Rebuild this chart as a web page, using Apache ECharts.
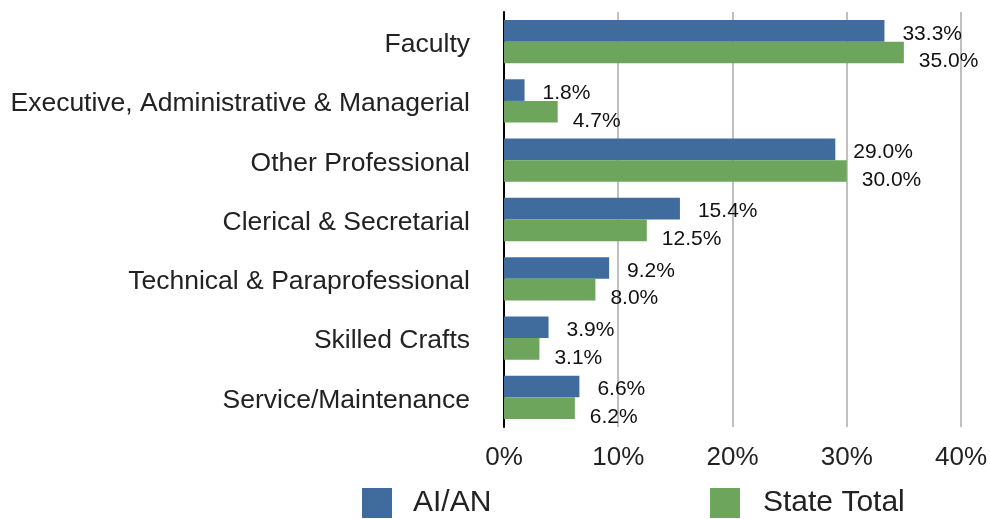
<!DOCTYPE html>
<html>
<head>
<meta charset="utf-8">
<script src="https://cdn.jsdelivr.net/npm/echarts@6/dist/echarts.min.js"></script>
<style>
html,body{margin:0;padding:0;background:#fff;}
#c{width:990px;height:519px;}
</style>
</head>
<body>
<div id="c"></div>
<script>
const categories = ['Faculty','Executive, Administrative & Managerial','Other Professional','Clerical & Secretarial','Technical & Paraprofessional','Skilled Crafts','Service/Maintenance'];
const aian = [33.3, 1.8, 29.0, 15.4, 9.2, 3.9, 6.6];
const stateTotal = [35.0, 4.7, 30.0, 12.5, 8.0, 3.1, 6.2];
const xTicks = [0, 10, 20, 30, 40];
const seriesNames = ['AI/AN', 'State Total'];

const FONT = 'Liberation Sans, Arial, Helvetica, sans-serif';
const chart = echarts.init(document.getElementById('c'), null, {renderer:'canvas'});
chart.setOption({
  backgroundColor: '#fff',
  animation: false,
  grid: {left: 504, right: 26, top: 12, bottom: 92, containLabel: false},
  legend: [
    {data: [seriesNames[0]], left: 362, top: 488, padding: 0, itemWidth: 30, itemHeight: 30, icon: 'rect',
     textStyle: {fontFamily: FONT, fontSize: 30, color: '#222', padding: [0,0,0,16]}},
    {data: [seriesNames[1]], left: 710, top: 488, padding: 0, itemWidth: 30, itemHeight: 30, icon: 'rect',
     textStyle: {fontFamily: FONT, fontSize: 30, color: '#222', padding: [0,0,0,18]}}
  ],
  xAxis: {
    type: 'value', min: xTicks[0], max: xTicks[xTicks.length-1], interval: 10,
    axisLine: {show: false}, axisTick: {show: false},
    splitLine: {show: true, lineStyle: {color: '#c0c0c0', width: 2}},
    axisLabel: {fontFamily: FONT, fontSize: 26, color: '#222', margin: 18, formatter: v => v + '%'}
  },
  yAxis: {
    type: 'category', data: categories, inverse: true,
    axisLine: {show: true, lineStyle: {color: '#000', width: 2}},
    axisTick: {show: false},
    axisLabel: {margin: 34, formatter: v => '{a|' + v + '}',
      rich: {a: {fontFamily: FONT, fontSize: 26.5, color: '#222', padding: [6,0,0,0]}}}
  },
  series: [
    {name: seriesNames[0], type: 'bar', data: aian, barGap: '0%', barCategoryGap: '27%',
     itemStyle: {color: '#3F6C9C'},
     label: {show: true, position: 'right', distance: 18, offset: [0, 3], fontFamily: FONT, fontSize: 21, color: '#111',
             formatter: p => p.value.toFixed(1) + '%'}},
    {name: seriesNames[1], type: 'bar', data: stateTotal, barGap: '0%', barCategoryGap: '27%',
     itemStyle: {color: '#6CA55B'},
     label: {show: true, position: 'right', distance: 15, offset: [0, 9], fontFamily: FONT, fontSize: 21, color: '#111',
             formatter: p => p.value.toFixed(1) + '%'}}
  ]
});
</script>
</body>
</html>
